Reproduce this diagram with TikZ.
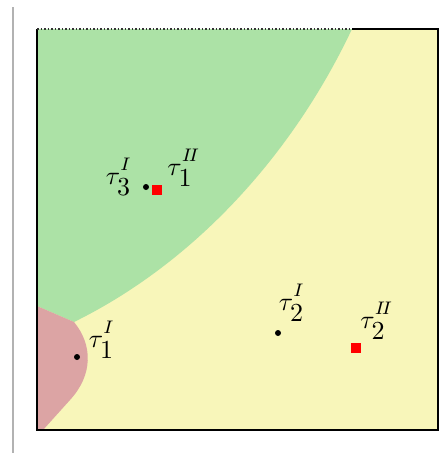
\documentclass[tikz,border=0pt]{standalone}
\usepackage{amsmath}
\usepackage{graphicx}
\usetikzlibrary{calc}
\definecolor{zonegreen}{RGB}{172,226,166}
\definecolor{zoneyellow}{RGB}{248,246,186}
\definecolor{zonered}{RGB}{220,164,164}
\newcommand{\tlab}[2]{\scalebox{2.6}{$\tau^{\raisebox{1.5pt}{$\scriptstyle #2$}}_{\raisebox{-1.5pt}{$#1$}}$}}

\begin{document}
\begin{tikzpicture}[x=1pt,y=-1pt,
  dot/.style={circle,fill=black,inner sep=0pt,minimum size=6pt},
  sq/.style={rectangle,fill=red,inner sep=0pt,minimum size=10pt},
  lbl/.style={inner sep=0pt}]
\useasboundingbox (0,0) rectangle (441,453);
\fill[white] (0,0) rectangle (441,453);
\draw[line width=2pt,black!30] (13,7) -- (13,453);

% zones
\fill[zoneyellow] (37,29) rectangle (438,430);
\fill[zonegreen] (37,29) -- (352,29) .. controls (290,160) and (190,265) .. (74,322) -- (37,306) -- cycle;
\fill[zonered] (37,306) -- (74,322) .. controls (93,345) and (93,375) .. (70,400) -- (43,430) -- (37,430) -- cycle;

% frame
\draw[line width=1.5pt] (352,29) -- (438,29) -- (438,430) -- (37,430) -- (37,29);
\draw[line width=1.5pt,dotted,black!80] (37,29) -- (352,29);

% centres
\node[dot] (p3) at (146,187) {};
\node[sq] (q1) at (157,190) {};
\node[dot] (p1) at (77,357) {};
\node[dot] (p2) at (278,333) {};
\node[sq] (q2) at (356,348) {};

\node[lbl] (lp3) at (119,177) {\tlab{3}{I}};
\node[lbl] (lq1) at (184,168) {\tlab{1}{I\!I}};
\node[lbl] (lp1) at (102,340) {\tlab{1}{I}};
\node[lbl] (lp2) at (292,303) {\tlab{2}{I}};
\node[lbl] (lq2) at (377,321) {\tlab{2}{I\!I}};
\end{tikzpicture}
\end{document}
